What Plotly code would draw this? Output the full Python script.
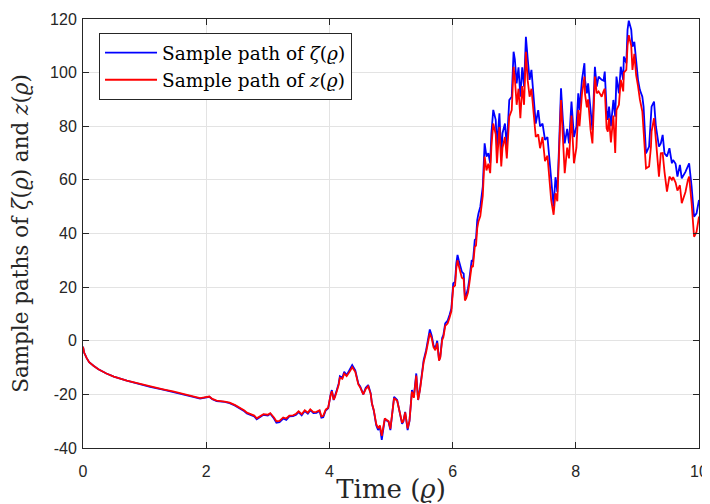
import plotly.graph_objects as go

time = [0, 0.02, 0.06, 0.1, 0.17, 0.25, 0.38, 0.5, 0.71, 0.9, 1.09, 1.3, 1.46, 1.6, 1.79, 1.9, 1.95,
        2.05, 2.1, 2.17, 2.3, 2.38, 2.47, 2.55, 2.62, 2.66, 2.72, 2.78, 2.82, 2.88, 2.93, 3.0, 3.04,
        3.1, 3.14, 3.19, 3.25, 3.3, 3.35, 3.41, 3.46, 3.5, 3.55, 3.6, 3.65, 3.69, 3.74, 3.79, 3.84,
        3.87, 3.9, 3.94, 3.98, 4.02, 4.04, 4.07, 4.09, 4.12, 4.15, 4.17, 4.21, 4.24, 4.28, 4.33, 4.37,
        4.42, 4.47, 4.5, 4.55, 4.59, 4.63, 4.67, 4.69, 4.72, 4.76, 4.79, 4.82, 4.85, 4.88, 4.9, 4.93,
        4.96, 4.99, 5.02, 5.05, 5.1, 5.15, 5.18, 5.2, 5.23, 5.27, 5.3, 5.34, 5.37, 5.41, 5.44, 5.47,
        5.5, 5.53, 5.57, 5.6, 5.63, 5.66, 5.69, 5.72, 5.75, 5.78, 5.8, 5.83, 5.85, 5.88, 5.92, 5.95,
        5.98, 6.01, 6.04, 6.06, 6.08, 6.1, 6.12, 6.15, 6.18, 6.2, 6.22, 6.25, 6.27, 6.31, 6.33, 6.36,
        6.38, 6.4, 6.42, 6.45, 6.49, 6.52, 6.55, 6.58, 6.61, 6.63, 6.66, 6.7, 6.72, 6.76, 6.79, 6.81,
        6.85, 6.88, 6.92, 6.96, 6.99, 7.01, 7.04, 7.07, 7.1, 7.13, 7.16, 7.19, 7.22, 7.25, 7.28, 7.31,
        7.33, 7.35, 7.39, 7.42, 7.46, 7.5, 7.54, 7.57, 7.6, 7.64, 7.67, 7.7, 7.73, 7.76, 7.79, 7.82,
        7.86, 7.89, 7.93, 7.97, 8.01, 8.04, 8.06, 8.1, 8.14, 8.15, 8.18, 8.2, 8.24, 8.27, 8.31, 8.34,
        8.37, 8.42, 8.45, 8.47, 8.5, 8.52, 8.54, 8.57, 8.61, 8.64, 8.66, 8.7, 8.73, 8.77, 8.78, 8.82,
        8.84, 8.86, 8.9, 8.92, 8.95, 8.98, 9.01, 9.04, 9.08, 9.1, 9.12, 9.14, 9.19, 9.22, 9.23, 9.27,
        9.3, 9.35, 9.38, 9.41, 9.44, 9.48, 9.52, 9.56, 9.58, 9.62, 9.65, 9.69, 9.72, 9.78, 9.82, 9.84,
        9.88, 9.92, 9.96, 10.0]

zeta_path = [-2.2, -4.5, -6.5, -8.0, -9.3, -10.6, -12.2, -13.4, -14.9, -16.1, -17.2, -18.2, -19.0, -19.8, -20.9, -21.6, -21.3,
             -20.9, -21.8, -22.5, -22.8, -23.3, -24.2, -25.2, -26.3, -27.1, -27.8, -28.2, -29.3, -28.5, -27.6, -27.9, -27.2,
             -29.0, -30.6, -30.4, -29.0, -29.5, -28.2, -28.1, -27.6, -26.6, -27.8, -26.2, -27.2, -25.9, -27.0, -26.9, -26.2,
             -28.7, -28.5, -26.0, -25.2, -20.0, -18.4, -22.1, -20.9, -18.4, -16.0, -13.2, -13.8, -11.6, -12.8, -10.9, -9.1,
             -11.0, -16.0, -17.0, -20.0, -17.5, -16.5, -19.6, -23.4, -26.0, -31.5, -33.3, -32.0, -37.0, -31.0, -29.0, -29.8,
             -30.2, -33.3, -26.0, -20.9, -22.1, -28.3, -31.0, -30.2, -26.5, -33.3, -30.0, -18.4, -21.0, -12.2, -22.1, -18.0,
             -13.4, -7.2, -3.5, 0.5, 4.2, 2.0, -1.6, -3.0, 0.0, -7.2, -6.0, 1.0, 2.1, 6.5, 7.5, 9.6,
             12.0, 21.4, 22.0, 28.9, 32.0, 30.0, 28.0, 25.7, 25.0, 16.4, 17.0, 19.6, 22.7, 30.1, 29.5, 37.6,
             38.0, 45.0, 47.5, 50.0, 57.5, 73.6, 68.7, 70.0, 66.2, 77.4, 86.1, 82.4, 72.4, 84.8, 68.7, 77.4,
             81.0, 72.4, 89.8, 91.0, 107.8, 105.0, 96.0, 102.0, 91.0, 102.0, 94.8, 113.4, 105.0, 97.3, 101.0, 93.6,
             87.3, 81.0, 86.0, 79.9, 81.0, 74.9, 76.0, 67.4, 60.0, 50.0, 61.0, 55.5, 73.6, 94.2, 82.4, 73.6,
             79.0, 73.6, 89.2, 76.0, 79.9, 92.3, 86.0, 97.3, 103.5, 97.3, 92.3, 96.0, 86.0, 78.6, 102.2, 94.8,
             98.5, 97.3, 97.0, 100.4, 86.0, 82.4, 87.3, 80.0, 89.8, 83.6, 98.5, 92.3, 102.2, 97.3, 106.0, 103.5,
             116.0, 119.4, 116.0, 109.7, 111.5, 103.5, 97.3, 93.6, 91.0, 87.3, 77.4, 69.9, 72.4, 81.0, 87.3, 89.2,
             80.0, 72.4, 73.6, 76.8, 69.9, 68.7, 71.8, 66.2, 67.4, 66.0, 61.2, 65.6, 60.6, 63.0, 65.6, 66.2,
             57.5, 46.3, 47.5, 52.5]

z_path = [-2.2, -4.5, -6.5, -8.0, -9.3, -10.6, -12.2, -13.4, -14.9, -16.0, -17.1, -18.1, -18.9, -19.7, -20.7, -21.4, -21.2,
          -20.8, -21.7, -22.3, -22.7, -23.1, -24.0, -25.0, -26.0, -26.8, -27.5, -27.9, -28.9, -28.2, -27.4, -27.6, -27.0,
          -28.6, -30.0, -29.9, -28.6, -29.0, -27.9, -27.8, -27.2, -26.3, -27.4, -25.9, -26.8, -25.6, -26.6, -26.5, -25.9,
          -28.2, -28.0, -25.7, -25.0, -20.3, -18.8, -22.0, -21.0, -18.8, -16.5, -13.8, -14.2, -12.3, -13.2, -11.5, -9.9,
          -11.6, -16.3, -17.4, -20.0, -18.0, -17.0, -19.8, -23.3, -25.8, -31.0, -32.6, -31.6, -35.5, -30.8, -29.0, -29.6,
          -30.0, -32.8, -26.2, -21.4, -22.4, -28.0, -30.6, -30.0, -26.7, -32.7, -29.8, -19.0, -21.3, -13.0, -22.0, -18.4,
          -14.0, -8.0, -4.3, -0.5, 2.8, 1.0, -2.4, -3.6, -0.8, -7.4, -6.3, 0.2, 1.3, 5.5, 6.5, 8.6,
          11.0, 20.0, 20.6, 27.0, 30.0, 28.0, 26.0, 23.5, 23.0, 15.0, 15.8, 18.0, 21.0, 28.0, 27.5, 35.0,
          35.5, 42.0, 44.5, 46.5, 54.0, 68.7, 63.5, 66.0, 62.5, 72.4, 81.0, 77.0, 66.2, 79.7, 65.0, 72.0,
          76.0, 68.0, 83.6, 86.0, 102.2, 98.0, 88.0, 94.0, 83.0, 95.0, 88.0, 107.8, 97.0, 91.0, 94.0, 85.0,
          80.0, 76.0, 77.0, 71.8, 76.0, 67.0, 69.0, 62.0, 52.5, 47.0, 55.0, 52.0, 68.7, 89.8, 76.0, 62.5,
          72.0, 68.0, 84.0, 66.2, 72.0, 86.0, 80.0, 92.0, 98.5, 92.0, 87.0, 90.0, 78.6, 73.6, 98.5, 92.3,
          93.0, 91.0, 93.0, 94.0, 79.2, 78.0, 83.0, 74.0, 84.0, 70.0, 86.0, 88.0, 97.3, 93.0, 100.0, 101.0,
          110.0, 114.0, 110.0, 101.0, 107.0, 99.0, 95.0, 90.0, 85.5, 78.0, 68.0, 64.3, 65.0, 72.4, 78.0, 83.0,
          75.0, 61.2, 69.9, 70.0, 63.0, 55.6, 61.2, 60.0, 61.0, 59.0, 56.0, 58.0, 51.3, 55.5, 60.0, 61.2,
          51.3, 38.8, 40.6, 46.3]

x_ticks = [0, 2, 4, 6, 8, 10]
x_tick_labels = ["0", "2", "4", "6", "8", "10"]
y_ticks = [-40, -20, 0, 20, 40, 60, 80, 100, 120]
y_tick_labels = ["-40", "-20", "0", "20", "40", "60", "80", "100", "120"]

serif = "DejaVu Serif"
sans = "Liberation Sans, Arial, sans-serif"

fig = go.Figure()
fig.add_trace(go.Scatter(x=time, y=zeta_path, mode="lines",
                         line=dict(color="#0000ff", width=1.8),
                         name="Sample path of <i>ζ</i>(<i>ϱ</i>)"))
fig.add_trace(go.Scatter(x=time, y=z_path, mode="lines",
                         line=dict(color="#ff0000", width=1.8),
                         name="Sample path of <i>z</i>(<i>ϱ</i>)"))

axis_common = dict(
    showline=True, linecolor="#262626", linewidth=1, mirror="ticks",
    ticks="inside", ticklen=6, tickcolor="#262626",
    showgrid=True, gridcolor="#e3e3e3", gridwidth=1,
    zeroline=False, automargin=False,
    tickfont=dict(family=sans, size=16, color="#262626"),
)

# the page body has an 8px margin, so the figure is sized/offset to fit the 710x504 window
fig.update_layout(
    width=702, height=496,
    margin=dict(l=75, r=11, t=11, b=56),
    paper_bgcolor="white", plot_bgcolor="white",
    xaxis=dict(range=[0, 10], tickvals=x_ticks, ticktext=x_tick_labels, ticklabelstandoff=9,
               title=dict(text="Time (<i>ϱ</i>)", font=dict(family=serif, size=26, color="#262626"),
                          standoff=0),
               **axis_common),
    yaxis=dict(range=[-40, 120], tickvals=y_ticks, ticktext=y_tick_labels, ticklabelstandoff=2,
               title=dict(text="Sample paths of <i>ζ</i>(<i>ϱ</i>) and <i>z</i>(<i>ϱ</i>)",
                          font=dict(family=serif, size=21.5, color="#262626"), standoff=18),
               **axis_common),
    legend=dict(x=0.026, y=0.967, xanchor="left", yanchor="top",
                bgcolor="white", bordercolor="#262626", borderwidth=1,
                font=dict(family=serif, size=18.5, color="#000000"),
                itemwidth=52, tracegroupgap=0),
    showlegend=True,
)

fig.write_html("out.html")
